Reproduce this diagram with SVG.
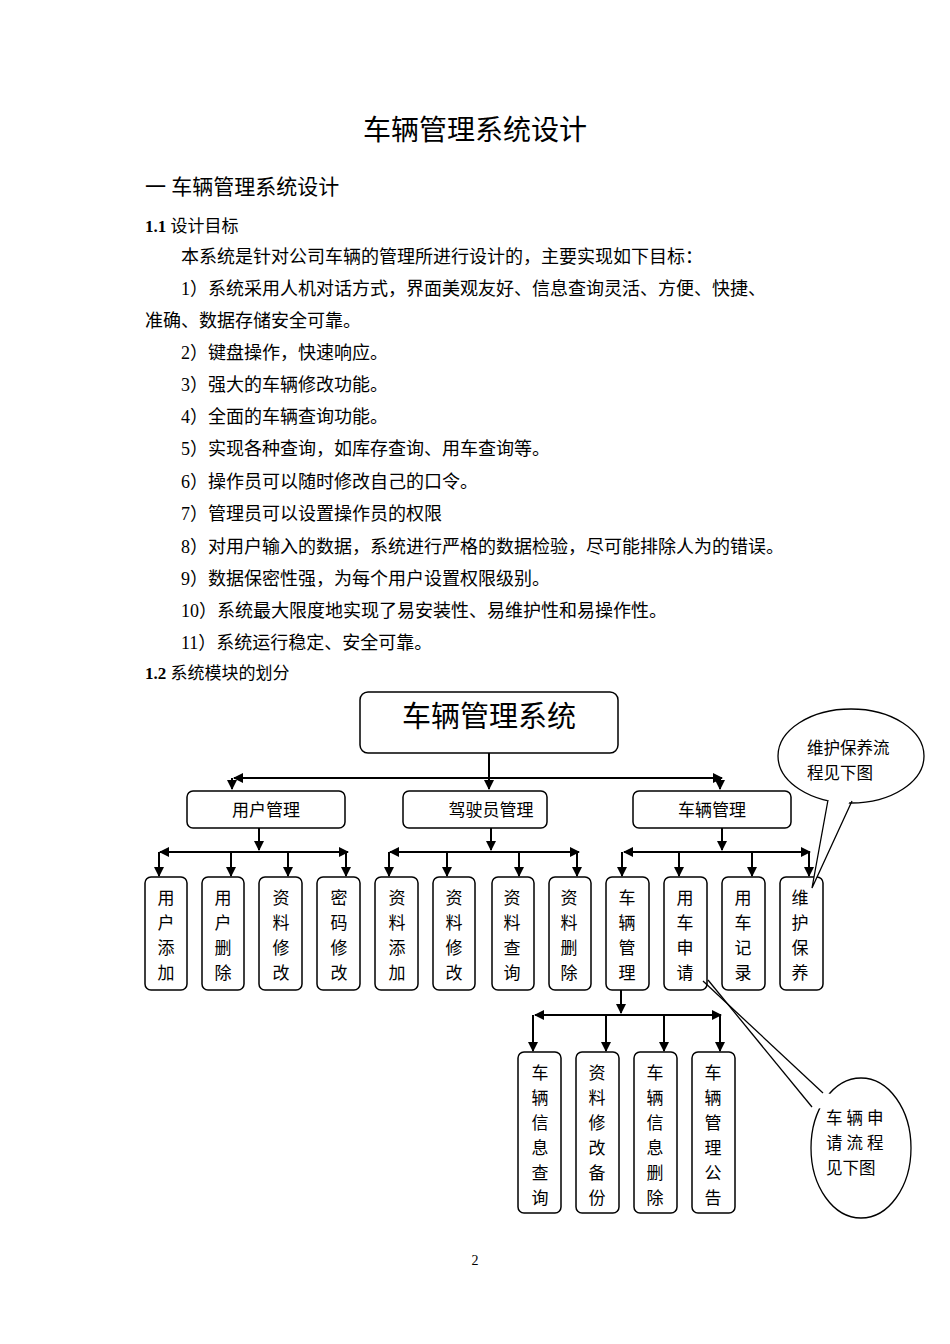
<svg xmlns="http://www.w3.org/2000/svg" width="950" height="1344" viewBox="0 0 950 1344">
<style>
text{font-family:"Liberation Serif","Noto Sans CJK SC",serif;fill:#000}
.b{font-size:18px}
.cb{font-size:16.5px}
.box{fill:#fff;stroke:#000;stroke-width:1.5}
.v{font-size:17px;text-anchor:middle}
.c line,.c polyline{stroke:#000;stroke-width:2;fill:none}
</style>
<defs><marker id="a" viewBox="0 0 10 10" refX="9" refY="5" markerWidth="5" markerHeight="5" orient="auto"><path d="M0,0L10,5L0,10z" fill="#000"/></marker></defs>
<rect width="950" height="1344" fill="#fff"/>
<text x="475" y="140" font-size="28" text-anchor="middle">车辆管理系统设计</text>
<text x="145" y="194" font-size="21">一  车辆管理系统设计</text>
<text x="145" y="232" font-size="17"><tspan font-weight="bold">1.1</tspan>  设计目标</text>
<g class="b">
<text x="181" y="263">本系统是针对公司车辆的管理所进行设计的，主要实现如下目标：</text>
<text x="181" y="295">1）系统采用人机对话方式，界面美观友好、信息查询灵活、方便、快捷、</text>
<text x="145" y="327">准确、数据存储安全可靠。</text>
<text x="181" y="359">2）键盘操作，快速响应。</text>
<text x="181" y="391">3）强大的车辆修改功能。</text>
<text x="181" y="423">4）全面的车辆查询功能。</text>
<text x="181" y="455">5）实现各种查询，如库存查询、用车查询等。</text>
<text x="181" y="488">6）操作员可以随时修改自己的口令。</text>
<text x="181" y="520">7）管理员可以设置操作员的权限</text>
<text x="181" y="553">8）对用户输入的数据，系统进行严格的数据检验，尽可能排除人为的错误。</text>
<text x="181" y="585">9）数据保密性强，为每个用户设置权限级别。</text>
<text x="181" y="617">10）系统最大限度地实现了易安装性、易维护性和易操作性。</text>
<text x="181" y="649">11）系统运行稳定、安全可靠。</text>
</g>
<text x="145" y="679" font-size="17"><tspan font-weight="bold">1.2</tspan>  系统模块的划分</text>
<text x="475" y="1265" font-size="14" text-anchor="middle">2</text>

<g class="c" id="connectors">
<line x1="489" y1="753" x2="489" y2="789" marker-end="url(#a)"/>
<line x1="489" y1="778" x2="234" y2="778" marker-end="url(#a)"/>
<line x1="489" y1="778" x2="722" y2="778" marker-end="url(#a)"/>
<line x1="232" y1="778" x2="232" y2="789" marker-end="url(#a)"/>
<line x1="720" y1="778" x2="720" y2="789" marker-end="url(#a)"/>
<line x1="259" y1="828" x2="259" y2="850" marker-end="url(#a)"/>
<line x1="259" y1="852" x2="160" y2="852" marker-end="url(#a)"/>
<line x1="259" y1="852" x2="348" y2="852" marker-end="url(#a)"/>
<polyline points="159,852 159,876" marker-end="url(#a)"/>
<line x1="231" y1="852" x2="231" y2="876" marker-end="url(#a)"/>
<line x1="288" y1="852" x2="288" y2="876" marker-end="url(#a)"/>
<line x1="346" y1="852" x2="346" y2="876" marker-end="url(#a)"/>
<line x1="491" y1="828" x2="491" y2="850" marker-end="url(#a)"/>
<line x1="491" y1="852" x2="390" y2="852" marker-end="url(#a)"/>
<line x1="491" y1="852" x2="579" y2="852" marker-end="url(#a)"/>
<line x1="389" y1="852" x2="389" y2="876" marker-end="url(#a)"/>
<line x1="447" y1="852" x2="447" y2="876" marker-end="url(#a)"/>
<line x1="519" y1="852" x2="519" y2="876" marker-end="url(#a)"/>
<line x1="577" y1="852" x2="577" y2="876" marker-end="url(#a)"/>
<line x1="722" y1="828" x2="722" y2="850" marker-end="url(#a)"/>
<line x1="722" y1="852" x2="624" y2="852" marker-end="url(#a)"/>
<line x1="722" y1="852" x2="810" y2="852" marker-end="url(#a)"/>
<line x1="622" y1="852" x2="622" y2="876" marker-end="url(#a)"/>
<line x1="679" y1="852" x2="679" y2="876" marker-end="url(#a)"/>
<line x1="752" y1="852" x2="752" y2="876" marker-end="url(#a)"/>
<line x1="809" y1="852" x2="809" y2="876" marker-end="url(#a)"/>
<line x1="621" y1="990" x2="621" y2="1013" marker-end="url(#a)"/>
<line x1="621" y1="1015" x2="535" y2="1015" marker-end="url(#a)"/>
<line x1="621" y1="1015" x2="721" y2="1015" marker-end="url(#a)"/>
<line x1="533" y1="1015" x2="533" y2="1051" marker-end="url(#a)"/>
<line x1="606" y1="1015" x2="606" y2="1051" marker-end="url(#a)"/>
<line x1="664" y1="1015" x2="664" y2="1051" marker-end="url(#a)"/>
<line x1="720" y1="1015" x2="720" y2="1051" marker-end="url(#a)"/>
</g>

<g id="root"><rect class="box" x="360" y="692" width="258" height="61" rx="8"/><text x="489" y="727" font-size="29" text-anchor="middle">车辆管理系统</text></g>
<g id="n_user"><rect class="box" x="187" y="791" width="158" height="37" rx="6"/><text x="266" y="816" class="v">用户管理</text></g>
<g id="n_driver"><rect class="box" x="403" y="791" width="144" height="37" rx="6"/><text x="491" y="816" class="v">驾驶员管理</text></g>
<g id="n_car"><rect class="box" x="633" y="791" width="158" height="37" rx="6"/><text x="712" y="816" class="v">车辆管理</text></g>

<g id="l3">
<g id="u1"><rect class="box" x="145" y="877" width="42" height="113" rx="6"/><text class="v"><tspan x="166" y="904">用</tspan><tspan x="166" y="929">户</tspan><tspan x="166" y="954">添</tspan><tspan x="166" y="979">加</tspan></text></g>
<g id="u2"><rect class="box" x="202" y="877" width="42" height="113" rx="6"/><text class="v"><tspan x="223" y="904">用</tspan><tspan x="223" y="929">户</tspan><tspan x="223" y="954">删</tspan><tspan x="223" y="979">除</tspan></text></g>
<g id="u3"><rect class="box" x="259" y="877" width="43" height="113" rx="6"/><text class="v"><tspan x="281" y="904">资</tspan><tspan x="281" y="929">料</tspan><tspan x="281" y="954">修</tspan><tspan x="281" y="979">改</tspan></text></g>
<g id="u4"><rect class="box" x="317" y="877" width="43" height="113" rx="6"/><text class="v"><tspan x="339" y="904">密</tspan><tspan x="339" y="929">码</tspan><tspan x="339" y="954">修</tspan><tspan x="339" y="979">改</tspan></text></g>
<g id="d1"><rect class="box" x="375" y="877" width="43" height="113" rx="6"/><text class="v"><tspan x="397" y="904">资</tspan><tspan x="397" y="929">料</tspan><tspan x="397" y="954">添</tspan><tspan x="397" y="979">加</tspan></text></g>
<g id="d2"><rect class="box" x="433" y="877" width="42" height="113" rx="6"/><text class="v"><tspan x="454" y="904">资</tspan><tspan x="454" y="929">料</tspan><tspan x="454" y="954">修</tspan><tspan x="454" y="979">改</tspan></text></g>
<g id="d3"><rect class="box" x="492" y="877" width="42" height="113" rx="6"/><text class="v"><tspan x="512" y="904">资</tspan><tspan x="512" y="929">料</tspan><tspan x="512" y="954">查</tspan><tspan x="512" y="979">询</tspan></text></g>
<g id="d4"><rect class="box" x="549" y="877" width="42" height="113" rx="6"/><text class="v"><tspan x="569" y="904">资</tspan><tspan x="569" y="929">料</tspan><tspan x="569" y="954">删</tspan><tspan x="569" y="979">除</tspan></text></g>
<g id="c1"><rect class="box" x="606" y="877" width="43" height="113" rx="6"/><text class="v"><tspan x="627" y="904">车</tspan><tspan x="627" y="929">辆</tspan><tspan x="627" y="954">管</tspan><tspan x="627" y="979">理</tspan></text></g>
<g id="c2"><rect class="box" x="664" y="877" width="43" height="113" rx="6"/><text class="v"><tspan x="685" y="904">用</tspan><tspan x="685" y="929">车</tspan><tspan x="685" y="954">申</tspan><tspan x="685" y="979">请</tspan></text></g>
<g id="c3"><rect class="box" x="722" y="877" width="43" height="113" rx="6"/><text class="v"><tspan x="743" y="904">用</tspan><tspan x="743" y="929">车</tspan><tspan x="743" y="954">记</tspan><tspan x="743" y="979">录</tspan></text></g>
<g id="c4"><rect class="box" x="780" y="877" width="43" height="113" rx="6"/><text class="v"><tspan x="800" y="904">维</tspan><tspan x="800" y="929">护</tspan><tspan x="800" y="954">保</tspan><tspan x="800" y="979">养</tspan></text></g>
</g>

<g id="l4">
<g id="s1"><rect class="box" x="518" y="1052" width="43" height="161" rx="6"/><text class="v"><tspan x="540" y="1079">车</tspan><tspan x="540" y="1104">辆</tspan><tspan x="540" y="1129">信</tspan><tspan x="540" y="1154">息</tspan><tspan x="540" y="1179">查</tspan><tspan x="540" y="1204">询</tspan></text></g>
<g id="s2"><rect class="box" x="576" y="1052" width="43" height="161" rx="6"/><text class="v"><tspan x="597" y="1079">资</tspan><tspan x="597" y="1104">料</tspan><tspan x="597" y="1129">修</tspan><tspan x="597" y="1154">改</tspan><tspan x="597" y="1179">备</tspan><tspan x="597" y="1204">份</tspan></text></g>
<g id="s3"><rect class="box" x="634" y="1052" width="43" height="161" rx="6"/><text class="v"><tspan x="655" y="1079">车</tspan><tspan x="655" y="1104">辆</tspan><tspan x="655" y="1129">信</tspan><tspan x="655" y="1154">息</tspan><tspan x="655" y="1179">删</tspan><tspan x="655" y="1204">除</tspan></text></g>
<g id="s4"><rect class="box" x="692" y="1052" width="43" height="161" rx="6"/><text class="v"><tspan x="713" y="1079">车</tspan><tspan x="713" y="1104">辆</tspan><tspan x="713" y="1129">管</tspan><tspan x="713" y="1154">理</tspan><tspan x="713" y="1179">公</tspan><tspan x="713" y="1204">告</tspan></text></g>
</g>

<g id="callout1">
<ellipse cx="851" cy="756" rx="73" ry="47" fill="#fff" stroke="#000" stroke-width="1.3"/>
<polygon points="828,798 812,888 852,796" fill="#fff"/>
<polyline points="828,800 812,888 852,801" fill="none" stroke="#000" stroke-width="1.3"/>
<text x="807" y="754" class="cb">维护保养流</text>
<text x="807" y="779" class="cb">程见下图</text>
</g>
<g id="callout2">
<ellipse cx="861" cy="1148" rx="50" ry="70" fill="#fff" stroke="#000" stroke-width="1.3"/>
<polygon points="822,1092 811,1107 830,1110 835,1095" fill="#fff"/>
<polyline points="703,981 823,1093" fill="none" stroke="#000" stroke-width="1.3"/>
<polyline points="708,980 812,1107" fill="none" stroke="#000" stroke-width="1.3"/>
<text x="826" y="1124" class="cb" letter-spacing="4">车辆申</text>
<text x="826" y="1149" class="cb" letter-spacing="4">请流程</text>
<text x="826" y="1174" class="cb">见下图</text>
</g>
</svg>
